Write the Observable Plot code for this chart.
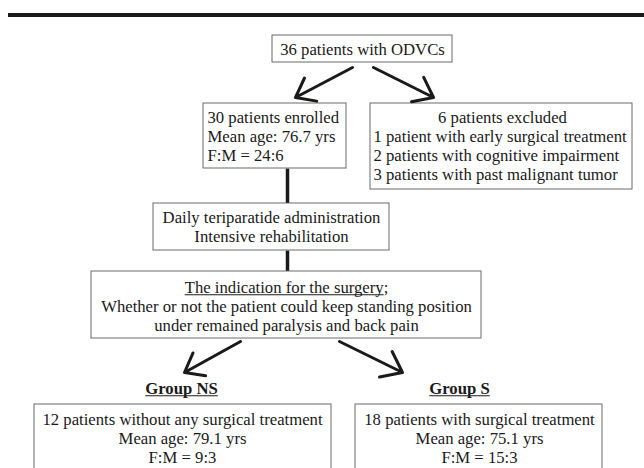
<!DOCTYPE html>
<html>
<head>
<meta charset="utf-8">
<script src="https://cdn.jsdelivr.net/npm/d3@7"></script>
<script src="https://cdn.jsdelivr.net/npm/@observablehq/plot@0.6"></script>
<style>
  html, body { margin: 0; padding: 0; background: #fff; }
</style>
</head>
<body>
<div id="chart"></div>
<script>
// ---- chart content (values / texts) ----
const screenedLines = ["36 patients with ODVCs"];
const enrolledLines = ["30 patients enrolled", "Mean age: 76.7 yrs", "F:M = 24:6"];
const excludedTitle = ["6 patients excluded"];
const excludedLines = [
  "1 patient with early surgical treatment",
  "2 patients with cognitive impairment",
  "3 patients with past malignant tumor"
];
const treatmentLines = ["Daily teriparatide administration", "Intensive rehabilitation"];
const indicationTitle = ["The indication for the surgery;"];
const indicationLines = [
  "Whether or not the patient could keep standing position",
  "under remained paralysis and back pain"
];
const groupLabels = ["Group NS", "Group S"];
const groupNSLines = ["12 patients without any surgical treatment", "Mean age: 79.1 yrs", "F:M = 9:3"];
const groupSLines = ["18 patients with surgical treatment", "Mean age: 75.1 yrs", "F:M = 15:3"];

// ---- layout (in scale units of the page) ----
const boxLayout = [
  {id: "screened",   x1: 272, x2: 452, y1: 35,  y2: 62},
  {id: "enrolled",   x1: 203, x2: 346, y1: 103, y2: 168},
  {id: "excluded",   x1: 370, x2: 632, y1: 103, y2: 189},
  {id: "treatment",  x1: 153, x2: 389, y1: 203, y2: 250},
  {id: "indication", x1: 91,  x2: 481, y1: 271, y2: 338},
  {id: "groupNS",    x1: 34,  x2: 331, y1: 404, y2: 500},
  {id: "groupS",     x1: 355, x2: 602, y1: 404, y2: 500}
];
const lineStep = 19;
const textBlocks = [
  {lines: screenedLines,   x: 362, y: 54,  align: "middle"},
  {lines: enrolledLines,   x: 207, y: 122, align: "start"},
  {lines: excludedTitle,   x: 502, y: 122, align: "middle"},
  {lines: excludedLines,   x: 373, y: 141, align: "start"},
  {lines: treatmentLines,  x: 271, y: 222, align: "middle"},
  {lines: indicationLines, x: 286, y: 311, align: "middle"},
  {lines: groupNSLines,    x: 182, y: 424, align: "middle"},
  {lines: groupSLines,     x: 479, y: 424, align: "middle"}
];
const titleBlocks = [{text: indicationTitle[0], x: 286, y: 292}];
const labelLayout = [
  {text: groupLabels[0], x: 181, y: 393},
  {text: groupLabels[1], x: 459, y: 393}
];
const arrowLayout = [
  {x1: 352, y1: 67, x2: 295, y2: 97},
  {x1: 373, y1: 67, x2: 433, y2: 97},
  {x1: 240, y1: 341, x2: 184, y2: 372},
  {x1: 339, y1: 341, x2: 402, y2: 372}
];
const connectorLayout = [
  {x1: 287, y1: 168, x2: 287, y2: 203},
  {x1: 287, y1: 250, x2: 287, y2: 271}
];

function rowsOf(blocks) {
  const out = [];
  for (const b of blocks) b.lines.forEach((t, i) => out.push({text: t, x: b.x, y: b.y + i * lineStep, align: b.align}));
  return out;
}
const rows = rowsOf(textBlocks);
const ink = "#1a1a1a";
const font = "'Liberation Serif', 'Times New Roman', serif";
const fs = 16.7;

const chart = Plot.plot({
  width: 644,
  height: 468,
  margin: 0,
  x: {domain: [0, 644], range: [0, 644], axis: null},
  y: {domain: [0, 468], range: [0, 468], axis: null},
  style: {background: "#fff", fontFamily: font},
  marks: [
    Plot.ruleY([14.5], {x1: 8, x2: 644, stroke: ink, strokeWidth: 4}),
    Plot.link(connectorLayout, {x1: "x1", y1: "y1", x2: "x2", y2: "y2", stroke: ink, strokeWidth: 3.5}),
    Plot.rect(boxLayout, {x1: "x1", x2: "x2", y1: "y1", y2: "y2", fill: "#fff", stroke: "#6a6a6a", strokeWidth: 1}),
    Plot.arrow(arrowLayout, {x1: "x1", y1: "y1", x2: "x2", y2: "y2", stroke: ink, strokeWidth: 3, headLength: 13, headAngle: 75}),
    Plot.text(rows.filter(d => d.align === "middle"), {x: "x", y: "y", text: "text", textAnchor: "middle", lineAnchor: "bottom", fontSize: fs, fill: ink, fontFamily: font}),
    Plot.text(rows.filter(d => d.align === "start"), {x: "x", y: "y", text: "text", textAnchor: "start", lineAnchor: "bottom", fontSize: fs, fill: ink, fontFamily: font}),
    Plot.text(titleBlocks, {x: "x", y: "y", text: "text", textAnchor: "middle", lineAnchor: "bottom", fontSize: fs, fill: ink, fontFamily: font}),
    Plot.text(labelLayout, {x: "x", y: "y", text: "text", textAnchor: "middle", lineAnchor: "bottom", fontSize: fs, fontWeight: "bold", fill: ink, fontFamily: font})
  ]
});
document.getElementById("chart").appendChild(chart);

// draw underlines under the group labels and the words of the indication title
(function () {
  const svgNode = chart.tagName.toLowerCase() === "svg" ? chart : chart.querySelector("svg");
  const root = d3.select(svgNode);
  const ulayer = root.append("g").attr("class", "underlines");
  const sm = svgNode.getScreenCTM();
  function underline(textEl, width) {
    const bb = textEl.getBBox();
    const m = textEl.getScreenCTM();
    const rel = sm.inverse().multiply(m);
    const base = 2.2 + (+textEl.getAttribute("y") || 0);
    const pt = (x, y) => [rel.a * x + rel.c * y + rel.e, rel.b * x + rel.d * y + rel.f];
    const [ax, ay] = pt(bb.x, base);
    const [bx, by] = pt(bb.x + width, base);
    ulayer.append("line")
      .attr("x1", ax).attr("y1", ay).attr("x2", bx).attr("y2", by)
      .attr("stroke", ink).attr("stroke-width", 1.1);
  }
  root.selectAll("text").each(function () {
    const t = this.textContent;
    if (groupLabels.includes(t)) {
      underline(this, this.getComputedTextLength());
    } else if (t === indicationTitle[0]) {
      const main = t.replace(/;$/, "");
      const sel = d3.select(this);
      sel.text(null);
      const ts = sel.append("tspan").text(main);
      sel.append("tspan").text(";");
      underline(this, ts.node().getComputedTextLength());
    }
  });
})();
</script>
</body>
</html>
